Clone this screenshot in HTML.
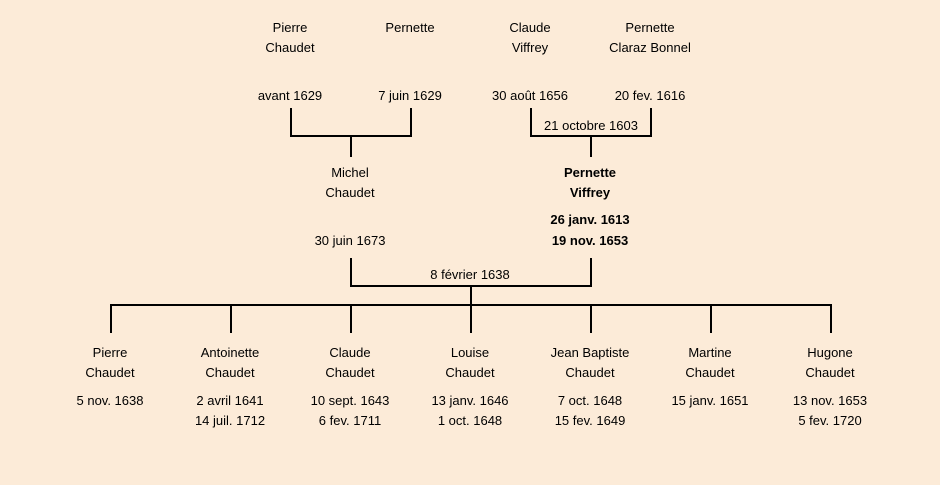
<!DOCTYPE html>
<html><head><meta charset="utf-8"><style>
html,body{margin:0;padding:0;background:#fcebd8;}
svg{display:block;}
text{font-family:"Liberation Sans","DejaVu Sans",sans-serif;font-size:13px;fill:#000;text-anchor:middle;}
.b{font-weight:bold;}
</style></head><body>
<svg width="940" height="485" viewBox="0 0 940 485">
<rect width="940" height="485" fill="#fcebd8"/>
<g stroke="#000" stroke-width="2" fill="none">
<path d="M291 108V136H411V108M351 136V157"/>
<path d="M531 108V136H651V108M591 136V157"/>
<path d="M351 258V286H591V258M471 286V305"/>
<path d="M111 333V305H831V333M231 305V333M351 305V333M471 305V333M591 305V333M711 305V333"/>
</g>
<text x="290" y="32">Pierre</text><text x="290" y="52">Chaudet</text>
<text x="410" y="32">Pernette</text>
<text x="530" y="32">Claude</text><text x="530" y="52">Viffrey</text>
<text x="650" y="32">Pernette</text><text x="650" y="52">Claraz Bonnel</text>
<text x="290" y="100">avant 1629</text>
<text x="410" y="100">7 juin 1629</text>
<text x="530" y="100">30 août 1656</text>
<text x="650" y="100">20 fev. 1616</text>
<text x="591" y="130">21 octobre 1603</text>
<text x="350" y="177">Michel</text><text x="350" y="197">Chaudet</text>
<text x="350" y="245">30 juin 1673</text>
<text class="b" x="590" y="177">Pernette</text><text class="b" x="590" y="197">Viffrey</text>
<text class="b" x="590" y="224">26 janv. 1613</text><text class="b" x="590" y="245">19 nov. 1653</text>
<text x="470" y="279">8 février 1638</text>
<text x="110" y="357">Pierre</text><text x="110" y="377">Chaudet</text><text x="110" y="405">5 nov. 1638</text>
<text x="230" y="357">Antoinette</text><text x="230" y="377">Chaudet</text><text x="230" y="405">2 avril 1641</text><text x="230" y="425">14 juil. 1712</text>
<text x="350" y="357">Claude</text><text x="350" y="377">Chaudet</text><text x="350" y="405">10 sept. 1643</text><text x="350" y="425">6 fev. 1711</text>
<text x="470" y="357">Louise</text><text x="470" y="377">Chaudet</text><text x="470" y="405">13 janv. 1646</text><text x="470" y="425">1 oct. 1648</text>
<text x="590" y="357">Jean Baptiste</text><text x="590" y="377">Chaudet</text><text x="590" y="405">7 oct. 1648</text><text x="590" y="425">15 fev. 1649</text>
<text x="710" y="357">Martine</text><text x="710" y="377">Chaudet</text><text x="710" y="405">15 janv. 1651</text>
<text x="830" y="357">Hugone</text><text x="830" y="377">Chaudet</text><text x="830" y="405">13 nov. 1653</text><text x="830" y="425">5 fev. 1720</text>
</svg>
</body></html>
